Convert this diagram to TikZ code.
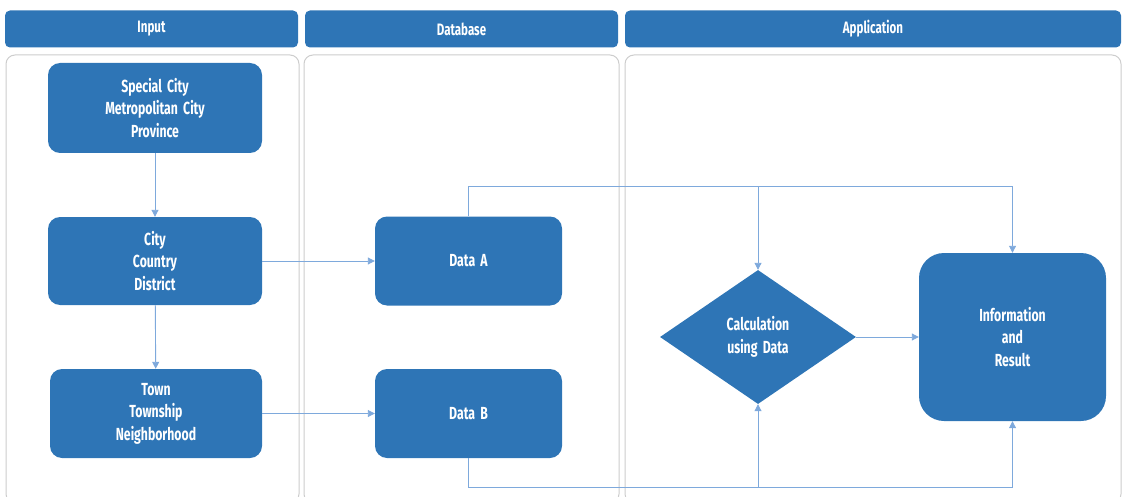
\documentclass[tikz,border=0pt]{standalone}
\usepackage{fontspec}
\setmainfont{Fira Sans}[FakeStretch=0.7, WordSpace=1.8]
\usetikzlibrary{shapes.geometric, arrows.meta, calc, positioning}
\definecolor{boxblue}{HTML}{2E75B6}
\definecolor{linkblue}{HTML}{7EA9DC}
\definecolor{lanegray}{HTML}{CDCDCD}
\tikzset{
    header/.style={
        fill=boxblue, rounded corners=5pt, text=white, inner sep=0pt,
        font=\bfseries\fontsize{16.5}{18}\selectfont
    },
    lane/.style={draw=lanegray, line width=1pt, rounded corners=9pt},
    unitbox/.style={
        fill=boxblue, rounded corners=12pt, text=white, align=center,
        inner sep=0pt, font=\bfseries\fontsize{17.5}{22.5}\selectfont
    },
    calcbox/.style={
        diamond, fill=boxblue, text=white, align=center, inner sep=0pt,
        font=\bfseries\fontsize{17.5}{22.5}\selectfont
    },
    link/.style={draw=linkblue, line width=0.9pt,
        -{Triangle[length=7pt, width=7pt]}},
}

\begin{document}
\begin{tikzpicture}[x=1pt, y=-1pt]
    \useasboundingbox (0,0) rectangle (1123,497);
    % swim lanes
    \draw[lane] (6,55) rectangle (299,503);
    \draw[lane] (304,55) rectangle (619,503);
    \draw[lane] (625,55) rectangle (1121,503);
    \node[header, minimum width=293pt, minimum height=37pt] (hinput)
        at (151.5,29) {Input};
    \node[header, minimum width=313pt, minimum height=37pt] (hdb)
        at (461.5,29) {Database};
    \node[header, minimum width=496pt, minimum height=37pt] (happ)
        at (873,29) {Application};

    % input units
    \node[unitbox, minimum width=214pt, minimum height=90pt] (province)
        at (155,108) {Special City\\Metropolitan City\\Province};
    \node[unitbox, minimum width=214pt, minimum height=88pt] (district)
        at (155,261) {City\\Country\\District};
    \node[unitbox, minimum width=212pt, minimum height=89pt] (town)
        at (156,413.5) {Town\\Township\\Neighborhood};

    % database
    \node[unitbox, minimum width=187pt, minimum height=89pt] (dataA)
        at (468.5,261) {Data A};
    \node[unitbox, minimum width=187pt, minimum height=89pt] (dataB)
        at (468.5,413.5) {Data B};

    % application
    \node[calcbox, minimum width=196pt, minimum height=134pt] (calc)
        at (758,337) {Calculation\\using Data};
    \node[unitbox, rounded corners=25pt, minimum width=187pt,
        minimum height=168pt] (result)
        at (1012.5,337) {Information\\and\\Result};

    \coordinate (topbus) at (0,186);
    \coordinate (botbus) at (0,487);

    \draw[link] (province) -- (district);
    \draw[link] (district) -- (town);
    \draw[link] (district) -- (dataA);
    \draw[link] (town) -- (dataB);
    \draw[link] (calc) -- (result);
    \draw[link] (dataA.north) -- (dataA.north |- topbus) -| (result.north);
    \draw[link] (calc.north |- topbus) -- (calc.north);
    \draw[link] (dataB.south) -- (dataB.south |- botbus) -| (result.south);
    \draw[link] (calc.south |- botbus) -- (calc.south);
\end{tikzpicture}
\end{document}
